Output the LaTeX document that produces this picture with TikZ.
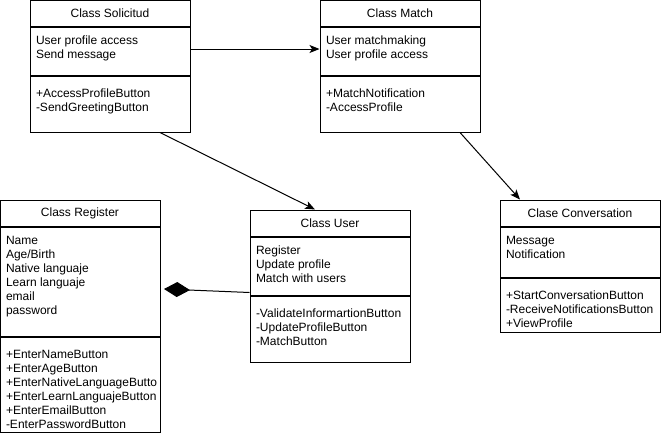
\documentclass[tikz,border=0pt]{standalone}
\usepackage{fontspec}
\setmainfont{Liberation Sans}
\usetikzlibrary{arrows.meta}
\newcommand{\compart}[3]{\parbox[t][#1pt][t]{148pt}{\raggedright\vspace{#2pt}\strut#3}}
\tikzset{
  classhead/.style={draw, minimum width=160pt, minimum height=26pt, inner sep=0pt},
  classpart/.style={draw, anchor=north, inner xsep=6pt, inner ysep=0pt},
  assoc/.style={-{Stealth[length=10pt,width=8pt,inset=2.5pt]}},
}
\begin{document}
\begin{tikzpicture}[x=1pt,y=-1pt,line width=1pt,font=\fontsize{12pt}{14pt}\selectfont]
\useasboundingbox (0,0) rectangle (662,434);

\node[classhead] (sol) at (110,13) {Class Solicitud};
\node[classpart] (solA) at (sol.south) {\compart{48}{8}{User profile access\\Send message}};
\node[classpart] (solM) at (solA.south) {\compart{56}{12}{+AccessProfileButton\\-SendGreetingButton}};

\node[classhead] (match) at (400,13) {Class Match};
\node[classpart] (matchA) at (match.south) {\compart{48}{8}{User matchmaking\\User profile access}};
\node[classpart] (matchM) at (matchA.south) {\compart{56}{12}{+MatchNotification\\-AccessProfile}};

\node[classhead] (reg) at (80,213) {Class Register};
\node[classpart] (regA) at (reg.south) {\compart{109}{8}{Name\\Age/Birth\\Native languaje\\Learn languaje\\email\\password}};
\node[classpart] (regM) at (regA.south) {\compart{95}{12}{+EnterNameButton\\+EnterAgeButton\\+EnterNativeLanguageButto\\+EnterLearnLanguajeButton\\+EnterEmailButton\\-EnterPasswordButton}};

\node[classhead] (user) at (330,223) {Class User};
\node[classpart] (userA) at (user.south) {\compart{58}{8}{Register\\Update profile\\Match with users}};
\node[classpart] (userM) at (userA.south) {\compart{66}{12}{-ValidateInformartionButton\\-UpdateProfileButton\\-MatchButton}};

\node[classhead] (conv) at (580,213) {Clase Conversation};
\node[classpart] (convA) at (conv.south) {\compart{50}{8}{Message\\Notification}};
\node[classpart] (convM) at (convA.south) {\compart{54}{12}{+StartConversationButton\\-ReceiveNotificationsButton\\+ViewProfile}};

\draw[assoc] ([yshift=2pt]solA.east) -- ([yshift=2pt]matchA.west);
\draw[assoc] ([xshift=50pt]solM.south) -- ([xshift=-15pt]user.north);
\draw[assoc] ([xshift=60pt]matchM.south) -- ([xshift=-60pt]conv.north);
\coordinate (regDia) at (164,289);
\draw[-{Diamond[length=26pt,width=15pt]}] ([yshift=3pt]userA.south west) -- (regDia);
\end{tikzpicture}
\end{document}
